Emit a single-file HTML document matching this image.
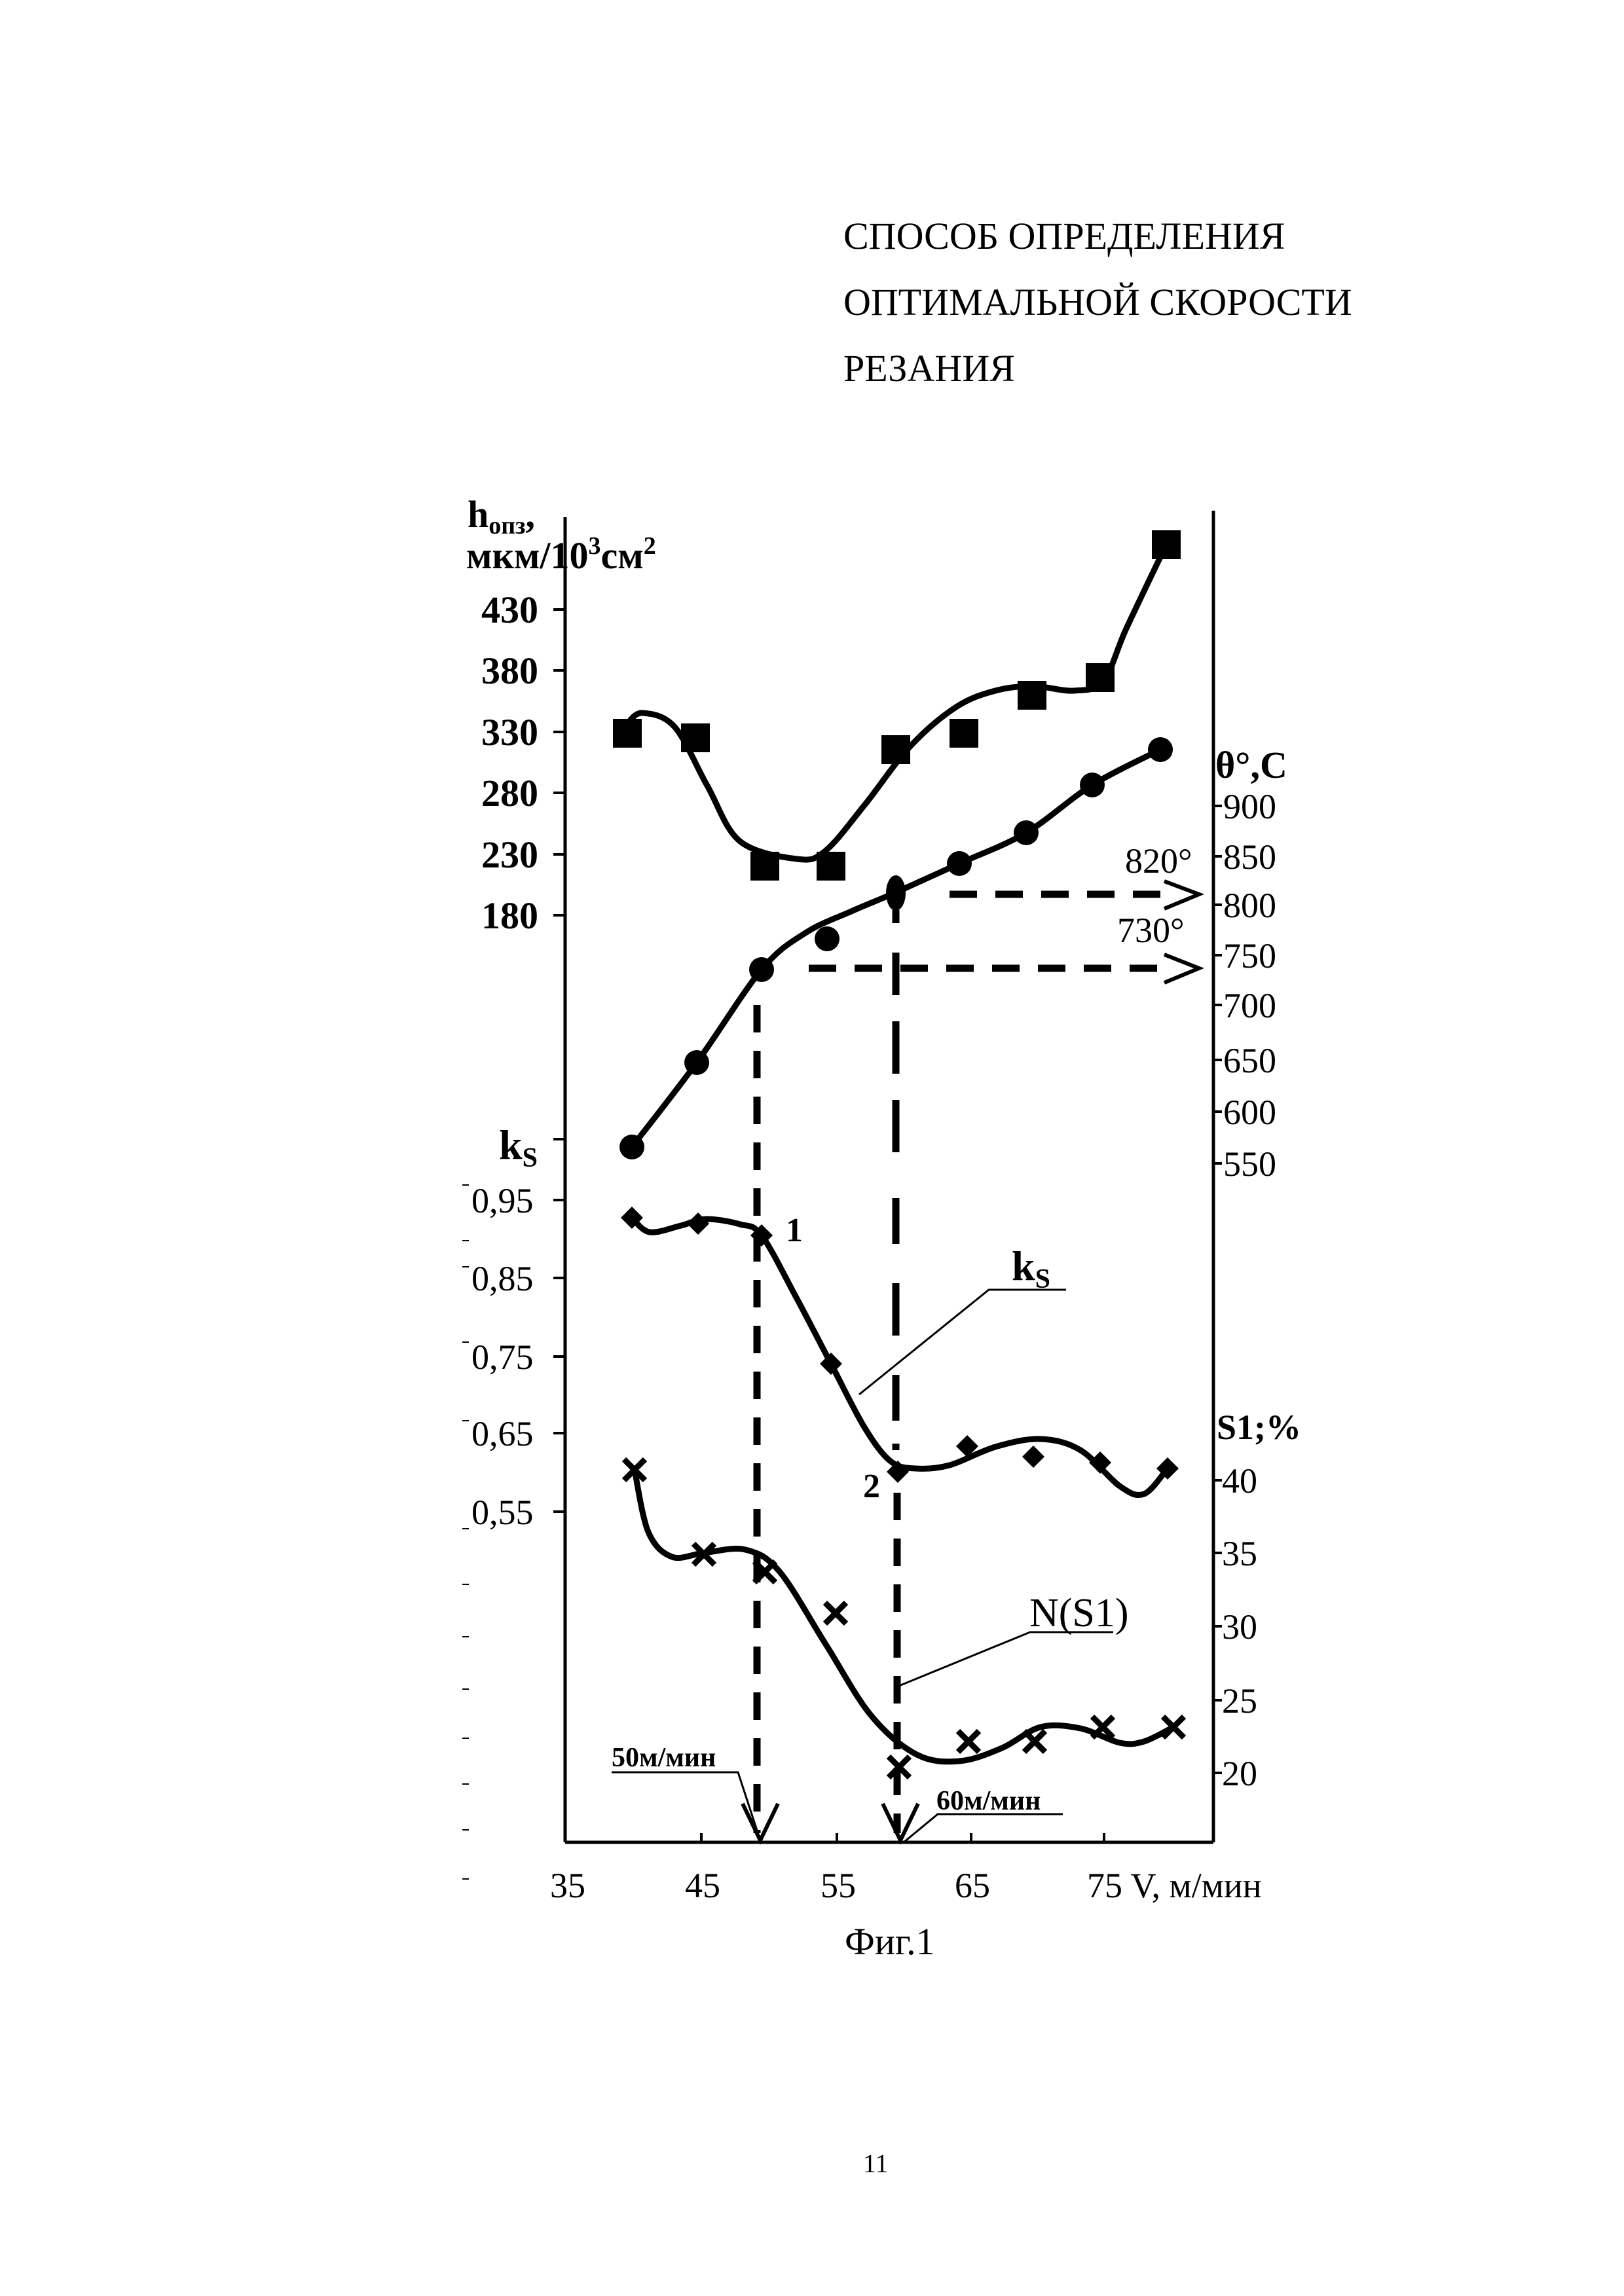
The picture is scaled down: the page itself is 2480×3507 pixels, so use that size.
<!DOCTYPE html>
<html><head><meta charset="utf-8"><style>
html,body{margin:0;padding:0;background:#fff}
svg{display:block}
text{font-family:"Liberation Serif","DejaVu Serif",serif;fill:#000}
</style></head><body>
<svg id="s" width="2480" height="3507" viewBox="0 0 2480 3507" xmlns="http://www.w3.org/2000/svg">
<g font-size="58">
<text x="1288" y="380">СПОСОБ ОПРЕДЕЛЕНИЯ</text>
<text x="1288" y="481">ОПТИМАЛЬНОЙ СКОРОСТИ</text>
<text x="1288" y="582">РЕЗАНИЯ</text>
</g>
<text x="1318" y="3318" font-size="40" font-family="Liberation Sans,sans-serif">11</text>
<text x="1290" y="2985" font-size="58">Фиг.1</text>
<g stroke="#000" stroke-width="5" fill="none">
<line x1="863" y1="790" x2="863" y2="2814"/>
<line x1="1853" y1="780" x2="1853" y2="2814"/>
<line x1="863" y1="2814" x2="1853" y2="2814"/>
</g>
<g stroke="#000" stroke-width="4">
<line x1="845" y1="931" x2="863" y2="931"/><line x1="845" y1="1024" x2="863" y2="1024"/>
<line x1="845" y1="1118" x2="863" y2="1118"/><line x1="845" y1="1211" x2="863" y2="1211"/>
<line x1="845" y1="1305" x2="863" y2="1305"/><line x1="845" y1="1398" x2="863" y2="1398"/>
<line x1="845" y1="1740" x2="863" y2="1740"/>
<line x1="845" y1="1833" x2="863" y2="1833"/><line x1="845" y1="1952" x2="863" y2="1952"/>
<line x1="845" y1="2072" x2="863" y2="2072"/><line x1="845" y1="2189" x2="863" y2="2189"/>
<line x1="845" y1="2309" x2="863" y2="2309"/>
<line x1="1853" y1="1231" x2="1866" y2="1231"/><line x1="1853" y1="1308" x2="1866" y2="1308"/>
<line x1="1853" y1="1382" x2="1866" y2="1382"/><line x1="1853" y1="1459" x2="1866" y2="1459"/>
<line x1="1853" y1="1535" x2="1866" y2="1535"/><line x1="1853" y1="1619" x2="1866" y2="1619"/>
<line x1="1853" y1="1698" x2="1866" y2="1698"/><line x1="1853" y1="1777" x2="1866" y2="1777"/>
<line x1="1853" y1="2261" x2="1866" y2="2261"/><line x1="1853" y1="2372" x2="1866" y2="2372"/>
<line x1="1853" y1="2484" x2="1866" y2="2484"/><line x1="1853" y1="2597" x2="1866" y2="2597"/>
<line x1="1853" y1="2708" x2="1866" y2="2708"/>
<line x1="1071" y1="2800" x2="1071" y2="2814"/><line x1="1278" y1="2800" x2="1278" y2="2814"/>
<line x1="1483" y1="2800" x2="1483" y2="2814"/><line x1="1686" y1="2800" x2="1686" y2="2814"/>
</g>
<g stroke="#000" stroke-width="2">
<line x1="706" y1="1810" x2="716" y2="1810"/><line x1="706" y1="1895" x2="716" y2="1895"/>
<line x1="706" y1="1935" x2="716" y2="1935"/><line x1="706" y1="2050" x2="716" y2="2050"/>
<line x1="706" y1="2170" x2="716" y2="2170"/><line x1="706" y1="2335" x2="716" y2="2335"/>
<line x1="706" y1="2420" x2="716" y2="2420"/><line x1="706" y1="2500" x2="716" y2="2500"/>
<line x1="706" y1="2580" x2="716" y2="2580"/><line x1="706" y1="2655" x2="716" y2="2655"/>
<line x1="706" y1="2725" x2="716" y2="2725"/><line x1="706" y1="2795" x2="716" y2="2795"/>
<line x1="706" y1="2870" x2="716" y2="2870"/>
</g>
<g font-size="58" font-weight="bold" text-anchor="end">
<text x="822" y="951">430</text><text x="822" y="1044">380</text><text x="822" y="1138">330</text>
<text x="822" y="1231">280</text><text x="822" y="1325">230</text><text x="822" y="1418">180</text>
</g>
<g font-size="58" font-weight="bold">
<text x="714" y="805">h<tspan font-size="38" dy="10">опз</tspan><tspan dy="-10">,</tspan></text>
<text x="712" y="868">мкм/10<tspan font-size="38" dy="-22">3</tspan><tspan dy="22">см</tspan><tspan font-size="38" dy="-22">2</tspan></text>
<text x="762" y="1770" font-size="64">k<tspan font-size="42" dy="12">S</tspan></text>
<text x="1856" y="1188">θ°,C</text>
<text x="1858" y="2198" font-size="54">S1;%</text>
</g>
<g font-size="54">
<text x="720" y="1852">0,95</text><text x="720" y="1971">0,85</text><text x="720" y="2091">0,75</text>
<text x="720" y="2208">0,65</text><text x="720" y="2328">0,55</text>
<text x="1868" y="1250">900</text><text x="1868" y="1327">850</text><text x="1868" y="1401">800</text>
<text x="1868" y="1478">750</text><text x="1868" y="1554">700</text><text x="1868" y="1638">650</text>
<text x="1868" y="1717">600</text><text x="1868" y="1796">550</text>
<text x="1866" y="2280">40</text><text x="1866" y="2391">35</text><text x="1866" y="2503">30</text>
<text x="1866" y="2616">25</text><text x="1866" y="2727">20</text>
<text x="840" y="2898">35</text><text x="1046" y="2898">45</text><text x="1253" y="2898">55</text>
<text x="1458" y="2898">65</text><text x="1660" y="2898">75 V, м/мин</text>
<text x="1718" y="1333">820°</text><text x="1706" y="1439">730°</text>
<text x="1572" y="2484" font-size="62">N(S1)</text>
</g>
<g font-size="52" font-weight="bold">
<text x="1200" y="1896">1</text><text x="1318" y="2287">2</text>
<text x="1545" y="1955" font-size="64">k<tspan font-size="42" dy="12">S</tspan></text>
<text x="934" y="2698" font-size="42">50м/мин</text>
<text x="1430" y="2764" font-size="42">60м/мин</text>
</g>
<g stroke="#000" stroke-width="3" fill="none">
<polyline points="1628,1970 1510,1970 1312,2130"/>
<polyline points="1700,2493 1573,2493 1368,2577"/>
<polyline points="934,2707 1127,2707 1161,2811"/>
<polyline points="1623,2771 1432,2771 1380,2814"/>
</g>
<g stroke="#000" stroke-width="11" fill="none" stroke-dasharray="42,28">
<line x1="1156" y1="1535" x2="1156" y2="2800"/>
<line x1="1370" y1="2280" x2="1370" y2="2800"/>
<line x1="1450" y1="1366" x2="1795" y2="1366"/>
<line x1="1235" y1="1479" x2="1795" y2="1479"/>
</g>
<g stroke="#000" stroke-width="11" fill="none">
<line x1="1368" y1="1390" x2="1368" y2="1410"/>
<line x1="1368" y1="1455" x2="1368" y2="1520"/>
<line x1="1368" y1="1560" x2="1368" y2="1640"/>
<line x1="1368" y1="1680" x2="1368" y2="1760"/>
<line x1="1368" y1="1830" x2="1368" y2="1900"/>
<line x1="1368" y1="1960" x2="1368" y2="2040"/>
<line x1="1368" y1="2100" x2="1368" y2="2170"/>
<line x1="1368" y1="2205" x2="1368" y2="2215"/>
</g>
<g stroke="#000" stroke-width="6" fill="none">
<polyline points="1778,1346 1831,1366 1778,1388"/>
<polyline points="1778,1458 1831,1479 1778,1501"/>
<polyline points="1134,2755 1161,2811 1188,2755"/>
<polyline points="1348,2755 1375,2811 1402,2755"/>
</g>
<g id="curves" stroke="#000" stroke-width="9" fill="none"></g>
<g id="marks"></g>
</svg>
<script>
function cr(p){let d="M"+p[0][0]+","+p[0][1];for(let i=0;i<p.length-1;i++){const a=p[i-1]||p[i],b=p[i],c=p[i+1],e=p[i+2]||c;d+=" C"+(b[0]+(c[0]-a[0])/6)+","+(b[1]+(c[1]-a[1])/6)+" "+(c[0]-(e[0]-b[0])/6)+","+(c[1]-(e[1]-b[1])/6)+" "+c[0]+","+c[1];}return d;}
const curves=[
[[958,1105],[981,1089],[1030,1110],[1080,1200],[1130,1285],[1217,1312],[1260,1300],[1320,1230],[1390,1140],[1460,1080],[1520,1055],[1578,1048],[1640,1055],[1685,1040],[1720,960],[1781,832]],
[[965,1752],[1064,1623],[1163,1481],[1230,1425],[1300,1392],[1366,1364],[1465,1319],[1567,1272],[1668,1199],[1772,1145]],
[[965,1860],[992,1882],[1040,1872],[1078,1862],[1130,1870],[1163,1887],[1215,1980],[1269,2083],[1320,2180],[1360,2232],[1398,2243],[1450,2238],[1520,2210],[1589,2198],[1650,2215],[1710,2270],[1747,2282],[1783,2243]],
[[969,2245],[990,2340],[1026,2378],[1075,2372],[1138,2367],[1190,2400],[1260,2510],[1330,2620],[1400,2680],[1465,2690],[1530,2670],[1589,2638],[1650,2640],[1710,2662],[1747,2660],[1792,2638]]];
let g=document.getElementById("curves"),h="";
curves.forEach(c=>h+='<path d="'+cr(c)+'"/>');g.innerHTML=h;
let m="";
[[958,1120],[1062,1127],[1168,1323],[1269,1323],[1368,1145],[1472,1120],[1576,1062],[1680,1035],[1781,832]].forEach(p=>m+='<rect x="'+(p[0]-22)+'" y="'+(p[1]-22)+'" width="44" height="44"/>');
[[965,1752],[1064,1623],[1163,1481],[1263,1434],[1465,1319],[1567,1272],[1668,1199],[1772,1145]].forEach(p=>m+='<circle cx="'+p[0]+'" cy="'+p[1]+'" r="19"/>');
m+='<ellipse cx="1368" cy="1364" rx="15" ry="27"/>';
[[965,1860],[1066,1869],[1163,1887],[1269,2083],[1371,2248],[1477,2209],[1578,2225],[1680,2234],[1783,2243]].forEach(p=>m+='<polygon points="'+p[0]+','+(p[1]-17)+' '+(p[0]+17)+','+p[1]+' '+p[0]+','+(p[1]+17)+' '+(p[0]-17)+','+p[1]+'"/>');
[[969,2245],[1075,2374],[1168,2401],[1276,2464],[1373,2699],[1479,2660],[1580,2660],[1684,2638],[1792,2638]].forEach(p=>m+='<path stroke="#000" stroke-width="9" d="M'+(p[0]-16)+','+(p[1]-16)+' L'+(p[0]+16)+','+(p[1]+16)+' M'+(p[0]+16)+','+(p[1]-16)+' L'+(p[0]-16)+','+(p[1]+16)+'"/>');
document.getElementById("marks").innerHTML=m;
</script>
</body></html>
